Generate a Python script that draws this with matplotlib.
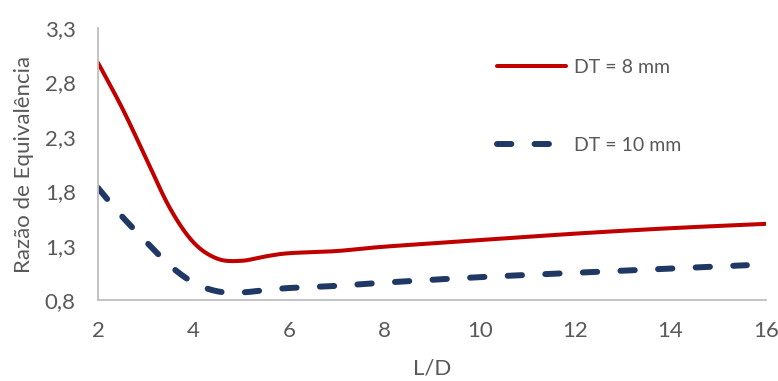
import numpy as np
import matplotlib
matplotlib.use("Agg")
import matplotlib.pyplot as plt

# data
ld_8 = [2, 2.5, 3, 3.5, 4, 4.5, 5, 5.5, 6, 7, 8, 10, 12, 14, 16]
razao_8 = [2.98, 2.57, 2.11, 1.65, 1.33, 1.18, 1.16, 1.20, 1.23, 1.25, 1.29,
           1.35, 1.41, 1.46, 1.50]
ld_10 = [2, 2.5, 3, 3.5, 4, 4.5, 5, 5.5, 6, 7, 8, 10, 12, 14, 15.6]
razao_10 = [1.83, 1.57, 1.34, 1.12, 0.96, 0.88, 0.87, 0.89, 0.91, 0.93, 0.96,
            1.01, 1.05, 1.09, 1.12]
yticks = [0.8, 1.3, 1.8, 2.3, 2.8, 3.3]
xticks = [2, 4, 6, 8, 10, 12, 14, 16]

GRAY = "#595959"


def smooth(xs, ys, n=30):
    # excel-like smoothed line: bezier through points, catmull-rom tangents
    x = np.asarray(xs, float)
    y = np.asarray(ys, float)
    px = np.concatenate([[x[0]], x, [x[-1]]])
    py = np.concatenate([[y[0]], y, [y[-1]]])
    outx, outy = [], []
    t = np.linspace(0, 1, n)
    for i in range(1, len(px) - 2):
        p0 = np.array([px[i], py[i]])
        p3 = np.array([px[i + 1], py[i + 1]])
        c1 = p0 + (p3 - np.array([px[i - 1], py[i - 1]])) / 6.0
        c2 = p3 - (np.array([px[i + 2], py[i + 2]]) - p0) / 6.0
        b = ((1 - t) ** 3)[:, None] * p0 + (3 * (1 - t) ** 2 * t)[:, None] * c1 \
            + (3 * (1 - t) * t ** 2)[:, None] * c2 + (t ** 3)[:, None] * p3
        outx.extend(b[:, 0])
        outy.extend(b[:, 1])
    return outx, outy


plt.rcParams['font.family'] = ['Lato', 'DejaVu Sans']
fig = plt.figure(figsize=(7.78, 3.81), dpi=100)
ax = fig.add_axes([98 / 778, 1 - 300 / 381, 668 / 778, 272 / 381])

sx, sy = smooth(ld_8, razao_8)
ax.plot(sx, sy, color="#C00000", lw=2.9, solid_capstyle="round",
        label="DT = 8 mm")
sx, sy = smooth(ld_10, razao_10)
ax.plot(sx, sy, color="#203864", lw=4.3, dash_capstyle="round",
        dashes=(2.4, 3.9), label="DT = 10 mm")

ax.set_xlim(2, 16)
ax.set_ylim(0.8, 3.3)
ax.set_xticks(xticks)
ax.set_yticks(yticks)
ax.set_yticklabels([("%.1f" % v).replace(".", ",") for v in yticks])
ax.tick_params(length=0, labelsize=16, colors=GRAY)
ax.tick_params(axis="x", pad=15)
ax.tick_params(axis="y", pad=16)
for s in ["top", "right"]:
    ax.spines[s].set_visible(False)
for s in ["left", "bottom"]:
    ax.spines[s].set_color("#BFBFBF")
    ax.spines[s].set_linewidth(1.3)

ax.set_xlabel("L/D", fontsize=16, color=GRAY, labelpad=13)
ax.set_ylabel("Razão de Equivalência", fontsize=16, color=GRAY, labelpad=8)

ax.legend(loc="upper left", bbox_to_anchor=(497 / 778, 1 - 59 / 381),
          bbox_transform=fig.transFigure, frameon=False, fontsize=14,
          labelcolor=GRAY, handlelength=3.55, handletextpad=0.4,
          labelspacing=3.15, borderpad=0, borderaxespad=0)

fig.savefig("out.png", dpi=100)
